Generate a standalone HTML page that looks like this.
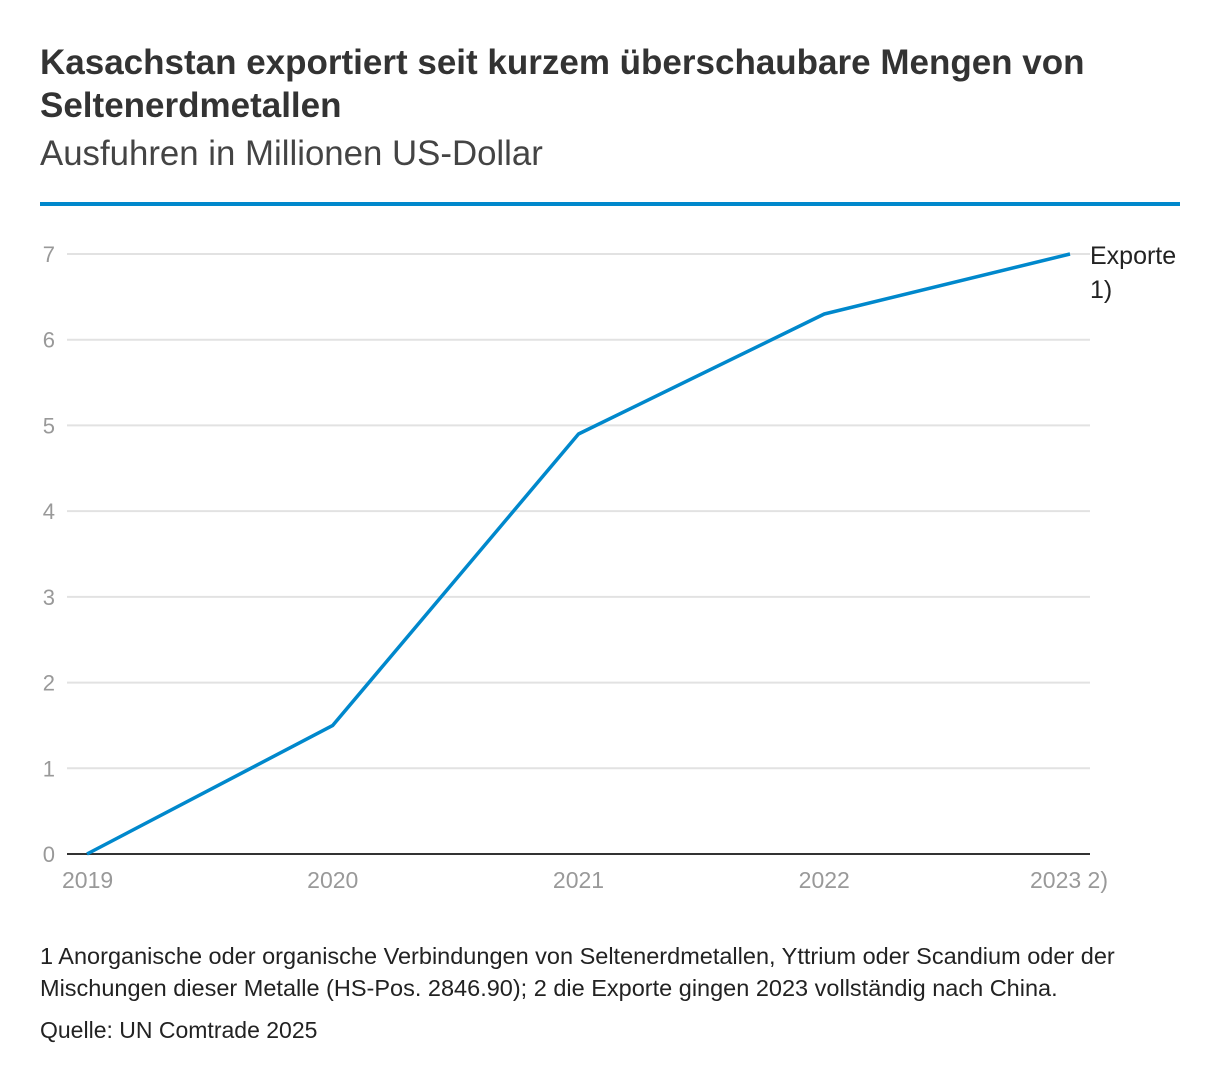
<!DOCTYPE html>
<html><head><meta charset="utf-8"><style>
body{margin:0;width:1220px;height:1086px;background:#fff;font-family:"Liberation Sans",sans-serif;color:#333;position:relative;overflow:hidden}
.t{position:absolute;left:40px;margin:0}
</style></head><body>
<h1 class="t" style="top:41px;font-size:35px;line-height:43px;font-weight:bold;color:#333;width:1160px">Kasachstan exportiert seit kurzem überschaubare Mengen von Seltenerdmetallen</h1>
<div class="t" style="top:133px;font-size:34.8px;line-height:42px;color:#444">Ausfuhren in Millionen US-Dollar</div>
<div style="position:absolute;left:40px;top:202px;width:1140px;height:4px;background:#0088cc"></div>
<svg id="c" width="1220" height="1086" style="position:absolute;left:0;top:0"></svg>
<div class="t" style="top:940px;font-size:23.5px;line-height:32px;color:#222;width:1100px">1 Anorganische oder organische Verbindungen von Seltenerdmetallen, Yttrium oder Scandium oder der Mischungen dieser Metalle (HS-Pos. 2846.90); 2 die Exporte gingen 2023 vollständig nach China.</div>
<div class="t" style="top:1014px;font-size:23px;line-height:32px;color:#222">Quelle: UN Comtrade 2025</div>
<script>
const categories=["2019","2020","2021","2022","2023 2)"];
const values=[0,1.5,4.9,6.3,7.0];
const yTicks=[0,1,2,3,4,5,6,7];
const NS="http://www.w3.org/2000/svg";
const svg=document.getElementById('c');
const x=i=>87+i*245.75;
const y=v=>854-v*600/7;
function mk(t,a){const e=document.createElementNS(NS,t);for(const k in a)e.setAttribute(k,a[k]);svg.appendChild(e);return e;}
yTicks.forEach(v=>{
  if(v>0){const g=mk('line',{x1:67,x2:1090,y1:y(v),y2:y(v),stroke:'#e2e2e2','stroke-width':2});
  
  }
  const t=mk('text',{x:55,y:y(v)+8,'text-anchor':'end','font-size':22,fill:'#999','font-family':'Liberation Sans, sans-serif'});
  t.textContent=v;
  
  
});
const ax=mk('line',{x1:67,x2:1090,y1:854,y2:854,stroke:'#333','stroke-width':2});


categories.forEach((c,i)=>{
  const t=mk('text',{x:x(i),y:888,'text-anchor':'middle','font-size':23,fill:'#999','font-family':'Liberation Sans, sans-serif'});
  if(i==0){t.setAttribute('x',62);t.setAttribute('text-anchor','start');}
  if(i==4){t.setAttribute('x',1030);t.setAttribute('text-anchor','start');}
  t.textContent=c;
  
  
});
const p=mk('polyline',{points:values.map((v,i)=>x(i)+','+y(v)).join(' '),fill:'none',stroke:'#0088cc','stroke-width':3.5,'stroke-linejoin':'round'});


const l=mk('text',{x:1090,y:264,'font-size':25,fill:'#222','font-family':'Liberation Sans, sans-serif'});
l.innerHTML='<tspan x="1090">Exporte</tspan><tspan x="1090" dy="34">1)</tspan>';


</script>
</body></html>
